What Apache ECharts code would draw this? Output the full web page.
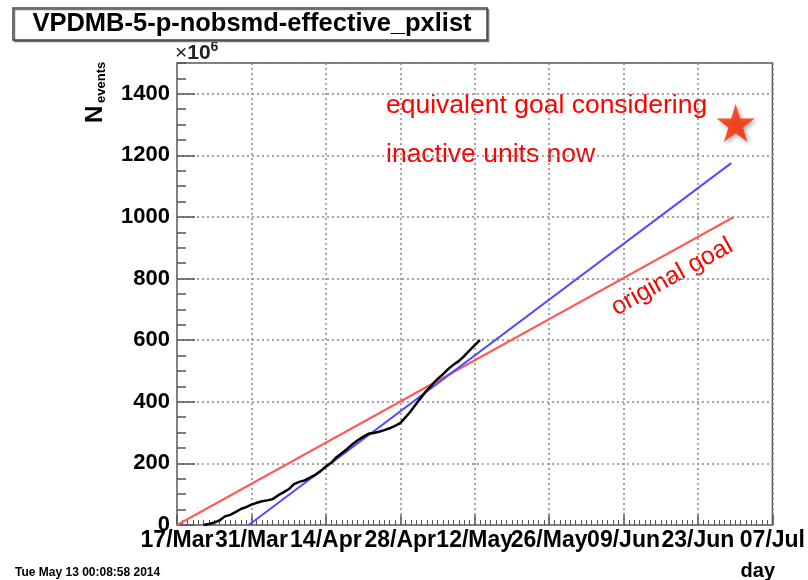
<!DOCTYPE html>
<html>
<head>
<meta charset="utf-8">
<script src="https://cdn.jsdelivr.net/npm/echarts@6/dist/echarts.min.js"></script>
<style>
  html, body { margin: 0; padding: 0; background: #fff; }
  #chart { width: 808px; height: 580px; }
</style>
</head>
<body>
<div id="chart"></div>
<script>
// Time axis origin: x values are days since this date
const axisStart = '2014-03-17';
const dayTickLabels = ['17/Mar', '31/Mar', '14/Apr', '28/Apr', '12/May', '26/May', '09/Jun', '23/Jun', '07/Jul'];

// Accumulated events (millions) per day
const runDates = [
  '2014-03-22', '2014-03-23', '2014-03-24', '2014-03-25', '2014-03-26', '2014-03-27',
  '2014-03-28', '2014-03-29', '2014-03-30', '2014-03-31', '2014-04-01', '2014-04-02',
  '2014-04-03', '2014-04-04', '2014-04-05', '2014-04-06', '2014-04-07', '2014-04-08',
  '2014-04-09', '2014-04-10', '2014-04-11', '2014-04-12', '2014-04-13', '2014-04-14',
  '2014-04-15', '2014-04-16', '2014-04-17', '2014-04-18', '2014-04-19', '2014-04-20',
  '2014-04-21', '2014-04-22', '2014-04-23', '2014-04-24', '2014-04-25', '2014-04-26',
  '2014-04-27', '2014-04-28', '2014-04-29', '2014-04-30', '2014-05-01', '2014-05-02',
  '2014-05-03', '2014-05-04', '2014-05-05', '2014-05-06', '2014-05-07', '2014-05-08',
  '2014-05-09', '2014-05-10', '2014-05-11', '2014-05-12', '2014-05-13'
];
const runEvents = [
  0, 3, 8, 15, 28, 33,
  42, 52, 58, 66, 72, 77,
  80, 84, 96, 106, 116, 133,
  140, 145, 154, 163, 175, 190,
  202, 220, 233, 247, 262, 275,
  286, 296, 299, 303, 308, 314,
  322, 331, 350, 370, 394, 416,
  437, 456, 474, 489, 506, 520,
  532, 548, 566, 584, 600
];

// Goal lines (millions of events)
const originalGoalDates = ['2014-03-17T00:00', '2014-06-29T18:00'];
const originalGoalEvents = [0, 1000];
const equivalentGoalDates = ['2014-03-30T12:00', '2014-06-29T06:00'];
const equivalentGoalEvents = [0, 1175];
const starDates = ['2014-06-30T02:00'];
const starEvents = [1305];

const DAY_MS = 86400000;
function toMs(s) {
  return Date.parse(s.length === 10 ? s + 'T00:00:00Z' : s + ':00Z');
}
const originMs = toMs(axisStart);
function dayOf(s) { return (toMs(s) - originMs) / DAY_MS; }
function pairs(dates, vals) { return dates.map((d, i) => [dayOf(d), vals[i]]); }

const FONT = '"Liberation Sans", Arial, Helvetica, sans-serif';
const AXIS_GREY = '#555';

const chart = echarts.init(document.getElementById('chart'), null, { renderer: 'canvas' });

const starPath = 'path://M50,0 L61.8,36.2 L100,36.2 L69.1,58.6 L80.9,95.1 L50,72.7 L19.1,95.1 L30.9,58.6 L0,36.2 L38.2,36.2 Z';

chart.setOption({
  animation: false,
  backgroundColor: '#fff',
  grid: {
    left: 177, right: 32, top: 63, bottom: 55,
    show: true, borderColor: AXIS_GREY, borderWidth: 1.5, backgroundColor: 'transparent'
  },
  xAxis: [{
    type: 'value', position: 'bottom',
    min: 0, max: 112, interval: 14,
    axisLine: { show: false },
    axisTick: { show: true, inside: true, length: 10, lineStyle: { color: AXIS_GREY, width: 1.5 } },
    minorTick: { show: true, splitNumber: 14, length: 5, lineStyle: { color: AXIS_GREY, width: 1 } },
    axisLabel: {
      margin: 4, color: '#000', fontFamily: FONT, fontWeight: 'bold', fontSize: 23,
      formatter: v => dayTickLabels[Math.round(v / 14)] || ''
    },
    splitLine: { show: true, lineStyle: { color: '#888', type: [2, 3], width: 1.5 } }
  }],
  yAxis: [{
    type: 'value', position: 'left',
    min: 0, max: 1500, interval: 200,
    axisLine: { show: false },
    axisTick: { show: true, inside: true, length: 18, lineStyle: { color: AXIS_GREY, width: 1.5 } },
    axisLabel: {
      margin: 7, color: '#000', fontFamily: FONT, fontWeight: 'bold', fontSize: 22,
      showMaxLabel: false,
      formatter: v => String(v)
    },
    splitLine: { show: true, lineStyle: { color: '#888', type: [2, 3], width: 1.5 } }
  }, {
    // fine ticks every 50 M events
    type: 'value', position: 'left',
    min: 0, max: 1500, interval: 50,
    axisLine: { show: false },
    axisTick: { show: true, inside: true, length: 9, lineStyle: { color: AXIS_GREY, width: 1.5 } },
    axisLabel: { show: false },
    splitLine: { show: false }
  }],
  series: [{
    name: 'original goal', type: 'line',
    data: pairs(originalGoalDates, originalGoalEvents),
    showSymbol: false, lineStyle: { color: '#ff5a5a', width: 2 }, z: 3
  }, {
    name: 'equivalent goal', type: 'line',
    data: pairs(equivalentGoalDates, equivalentGoalEvents),
    showSymbol: false, lineStyle: { color: '#4d4dff', width: 2 }, z: 4
  }, {
    name: 'effective events', type: 'line',
    data: pairs(runDates, runEvents),
    showSymbol: false, lineStyle: { color: '#000', width: 2.5 }, z: 5
  }, {
    name: 'goal star', type: 'scatter',
    data: pairs(starDates, starEvents),
    symbol: starPath, symbolSize: 38,
    itemStyle: { color: '#ff2a00', shadowColor: 'rgba(0,0,0,0.45)', shadowBlur: 4, shadowOffsetX: 2, shadowOffsetY: 2 },
    z: 6
  }],
  graphic: [
    // title box
    {
      type: 'rect', shape: { x: 13, y: 8, width: 474, height: 32 },
      style: { fill: '#fff', stroke: '#444', lineWidth: 1.5, shadowColor: '#777', shadowOffsetX: 1.5, shadowOffsetY: 1.5, shadowBlur: 0 },
      z: 10
    },
    {
      type: 'text', x: 252, y: 24,
      style: { text: 'VPDMB-5-p-nobsmd-effective_pxlist', fill: '#000', font: 'bold 25.5px ' + FONT, align: 'center', verticalAlign: 'middle' },
      z: 11
    },
    // axis multiplier
    {
      type: 'text', x: 175, y: 64,
      style: {
        text: '{a|\u00d7}{c|10}{b|6}', verticalAlign: 'bottom', align: 'left',
        rich: {
          a: { fill: '#222', font: '21px ' + FONT, verticalAlign: 'bottom' },
          c: { fill: '#222', font: 'bold 21px ' + FONT, verticalAlign: 'bottom' },
          b: { fill: '#222', font: 'bold 14px ' + FONT, verticalAlign: 'top', padding: [0, 0, 10, 0] }
        }
      }
    },
    // y axis title
    {
      type: 'text', x: 95, y: 123, rotation: Math.PI / 2,
      style: { text: 'N', fill: '#000', font: 'bold 24px ' + FONT, align: 'left', verticalAlign: 'middle' }
    },
    {
      type: 'text', x: 101, y: 103, rotation: Math.PI / 2,
      style: { text: 'events', fill: '#000', font: 'bold 13px ' + FONT, align: 'left', verticalAlign: 'middle' }
    },
    // x axis title
    {
      type: 'text', x: 775, y: 571,
      style: { text: 'day', fill: '#000', font: 'bold 20px ' + FONT, align: 'right', verticalAlign: 'middle' }
    },
    // timestamp
    {
      type: 'text', x: 15, y: 573,
      style: { text: 'Tue May 13 00:08:58 2014', fill: '#000', font: 'bold 12px ' + FONT, align: 'left', verticalAlign: 'middle' }
    },
    // annotations
    {
      type: 'text', x: 386, y: 106,
      style: { text: 'equivalent goal considering', fill: '#ff0000', font: '26.5px ' + FONT, align: 'left', verticalAlign: 'middle' }
    },
    {
      type: 'text', x: 386, y: 155,
      style: { text: 'inactive units now', fill: '#ff0000', font: '26.5px ' + FONT, align: 'left', verticalAlign: 'middle' }
    },
    {
      type: 'text', x: 672, y: 277, rotation: 29 * Math.PI / 180,
      style: { text: 'original goal', fill: '#ff0000', font: '25px ' + FONT, align: 'center', verticalAlign: 'middle' }
    }
  ]
});
</script>
</body>
</html>
